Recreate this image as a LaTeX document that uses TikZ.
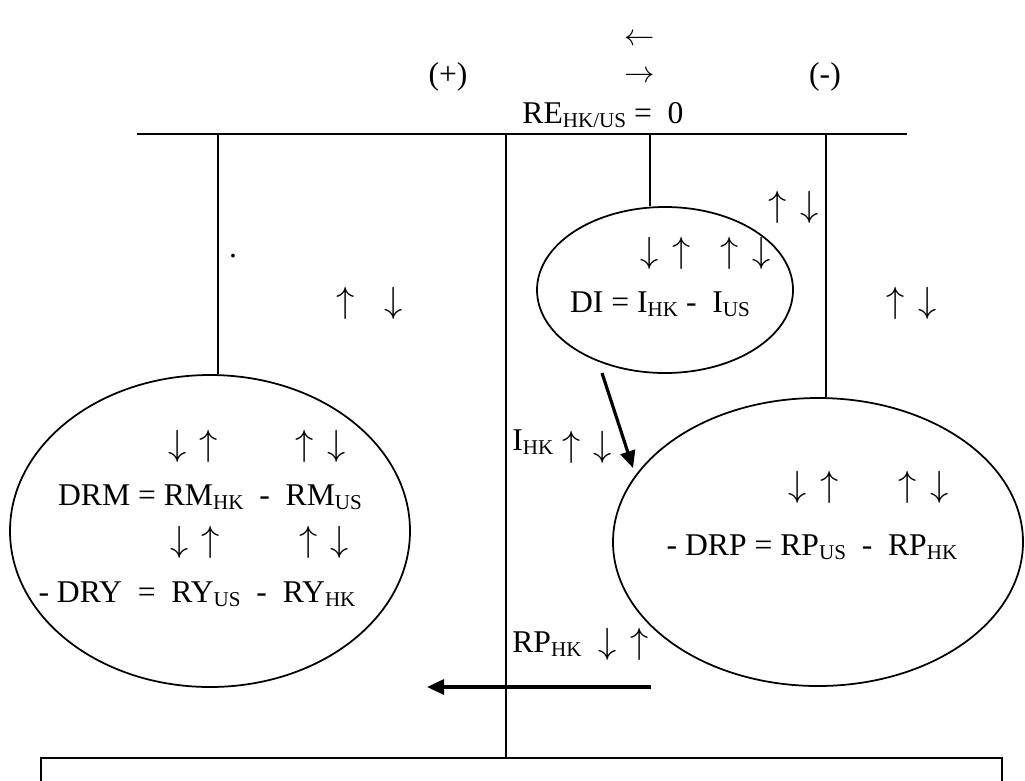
\documentclass[tikz,border=0pt]{standalone}
\usepackage{fontspec}
\setmainfont{Liberation Serif}
\usepackage{tikz}
\usetikzlibrary{arrows.meta,shapes.geometric,calc}
\newcommand{\lo}[1]{\raisebox{-2.5pt}{\fontsize{12}{13}\selectfont #1}}

\begin{document}
\begin{tikzpicture}[
  x=0.2mm, y=-0.2mm,
  every node/.style={font=\fontsize{18}{21}\selectfont, inner sep=0pt},
  oval/.style={ellipse, draw, line width=1pt, inner sep=0pt},
  lne/.style={line width=1pt},
  updn/.style={font=\fontsize{22}{24}\selectfont},
  arr/.style={-{Triangle[length=3.4mm, width=3mm]}, line width=1.8pt},
]
\clip (0,0) rectangle (1025,780);

% direction and sign row
\node (lft)  at (640,40) {$\leftarrow$};
\node (plus) at (448,77) {(+)};
\node (rgt)  at (640,77) {$\rightarrow$};
\node (minus) at (825,77) {(-)};
\node[anchor=base] (re) at (603,123) {RE\lo{HK/US} =\ \ 0};

% top bar and its drops
\coordinate (bl) at (137,134);
\coordinate (br) at (907,134);
\coordinate (t1) at (218,134);
\coordinate (t2) at (506,134);
\coordinate (t3) at (650,134);
\coordinate (t4) at (826,134);
\draw[lne] (bl) -- (br);

% ovals
\node[oval, minimum width=80mm, minimum height=62.4mm] (drm) at (210,531) {};
\node[oval, minimum width=51.2mm, minimum height=33.2mm] (di) at (665,290) {};
\node[oval, minimum width=82mm, minimum height=57.6mm] (drp) at (818,542) {};
\node[draw, line width=1pt, minimum width=192.2mm, minimum height=16.8mm] (box) at (521.5,800) {};

\draw[lne] (t1) -- (t1 |- drm.north);
\draw[lne] (t2) -- (t2 |- box.north);
\draw[lne] (t3) -- (t3 |- di.north);
\draw[lne] (t4) -- (t4 |- drp.north);

% equations
\node[anchor=base] (di-t)  at (660,312) {DI = I\lo{HK} -\ \ I\lo{US}};
\node[anchor=base] (drm-t) at (210,505) {DRM = RM\lo{HK}\ \ -\ \ RM\lo{US}};
\node[anchor=base] (dry-t) at (197,602) {- DRY\ \ =\ \ RY\lo{US}\ \ -\ \ RY\lo{HK}};
\node[anchor=base] (drp-t) at (812,555) {- DRP = RP\lo{US}\ \ -\ \ RP\lo{HK}};
\node[anchor=base west] (ihk)  at (512,450) {I\lo{HK}};
\node[anchor=base west] (rphk) at (512,652) {RP\lo{HK}};
\node (dot) at (233,256) {.};

% up and down marks
\foreach \x/\y/\s [count=\i] in {346/303/\uparrow, 394/303/\downarrow,
    778/207/\uparrow, 810/207/\downarrow, 896/303/\uparrow, 928/303/\downarrow,
    650/253/\downarrow, 682/253/\uparrow, 730/253/\uparrow, 762/253/\downarrow,
    178/446/\downarrow, 209/446/\uparrow, 305/446/\uparrow, 337/446/\downarrow,
    180/542/\downarrow, 211/542/\uparrow, 309/542/\uparrow, 340/542/\downarrow,
    798/487/\downarrow, 830/487/\uparrow, 908/487/\uparrow, 940/487/\downarrow,
    572/447/\uparrow, 603/447/\downarrow, 608/644/\downarrow, 640/644/\uparrow}
  \node[updn] (m\i) at (\x,\y) {$\s$};

% flows
\coordinate (d1) at (602,373);
\coordinate (d2) at (633,468);
\coordinate (h1) at (651,687);
\coordinate (h2) at (427,687);
\draw[arr] (d1) -- (d2);
\draw[arr] (h1) -- (h2);
\end{tikzpicture}
\end{document}
